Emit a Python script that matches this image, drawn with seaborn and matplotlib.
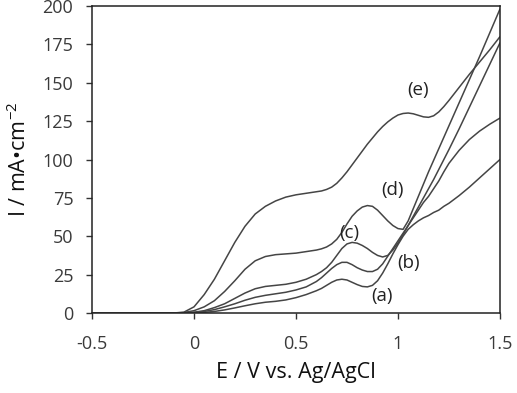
import numpy as np
import pandas as pd
import seaborn as sns
import matplotlib.pyplot as plt

# ---------------------------------------------------------------- data
potential = [-0.5, -0.1, -0.05, 0.0, 0.05, 0.1, 0.15, 0.2, 0.25, 0.3, 0.35, 0.4, 0.45, 0.5, 0.55, 0.6,
             0.625, 0.65, 0.675, 0.7, 0.725, 0.75, 0.775, 0.8, 0.825, 0.85, 0.875, 0.9, 0.925, 0.95,
             0.975, 1.0, 1.025, 1.05, 1.075, 1.1, 1.125, 1.15, 1.175, 1.2, 1.225, 1.25,
             1.3, 1.35, 1.4, 1.45, 1.5]

curve_a = [0, 0, 0, 0.1, 0.4, 1, 2, 3.3, 4.7, 6, 7, 7.6, 8.5, 10, 12, 14.5,
           16, 18, 20, 21.5, 22, 21.5, 20, 18.5, 17.3, 17, 18, 21, 26, 32,
           38.5, 44.5, 50, 54.5, 57.5, 60, 62, 63.5, 65.5, 67, 69.5, 71.5,
           76.5, 82, 88, 94, 100]
curve_b = [0, 0, 0, 0.3, 1, 2.2, 4, 6, 8.3, 10.2, 11.5, 12.5, 13.5, 15, 17, 20.5,
           23, 26, 29, 31.5, 33, 33, 31.5, 29.5, 28, 27, 27, 28.5, 32, 37,
           42, 47, 52, 57, 62, 67, 72, 76, 81, 86, 92, 97.5,
           106, 113, 118.5, 123, 127]
curve_c = [0, 0, 0.1, 0.5, 1.5, 3.5, 6, 9.5, 13, 15.8, 17.3, 18, 18.7, 20, 22, 25,
           27, 29.5, 33, 37.5, 42, 45, 46, 45.5, 44, 42, 39.5, 37.5, 36.5, 37.5,
           41, 45.5, 51, 57, 63, 69, 75, 81, 87, 93.5, 100, 106.5,
           120, 134, 148, 162, 176]
curve_d = [0, 0, 0.3, 1.5, 4, 8, 14, 21, 28.5, 34, 36.8, 38, 38.5, 39, 40, 41,
           41.8, 43, 45, 48, 52.5, 58, 63, 66.5, 69, 70, 69.5, 67, 63.5, 60,
           57, 55, 54.5, 60, 68, 76, 84, 92, 99.5, 107, 114.5, 122,
           137, 152, 167, 182.5, 198]
curve_e = [0, 0, 0.5, 4, 12, 22, 34, 46, 56.5, 64.5, 69.5, 73, 75.5, 77, 78, 79,
           79.5, 80.5, 82, 84.5, 88, 92, 96.5, 101, 105.5, 110, 114, 118, 121.5, 124.5,
           127, 129, 130, 130.3, 129.8, 128.8, 127.8, 127.5, 128.5, 131, 134.5, 138.5,
           147, 155.5, 163.5, 171.5, 180]

labels       = ["(a)", "(b)", "(c)", "(d)", "(e)"]
label_x      = [0.92, 1.05, 0.76, 0.975, 1.10]
label_y      = [11, 32.5, 52, 80, 145]

x_ticks      = [-0.5, 0, 0.5, 1, 1.5]
x_ticklabels = ["-0.5", "0", "0.5", "1", "1.5"]
y_ticks      = [0, 25, 50, 75, 100, 125, 150, 175, 200]

# ---------------------------------------------------------------- long form table
frames = []
for name, values in zip(labels, [curve_a, curve_b, curve_c, curve_d, curve_e]):
    frames.append(pd.DataFrame({"E": potential, "I": values, "curve": name}))
data = pd.concat(frames, ignore_index=True)

# ---------------------------------------------------------------- plot
sns.set_theme(style="white")
plt.rcParams['font.family'] = ['Open Sans', 'DejaVu Sans']
plt.rcParams['mathtext.fontset'] = 'custom'
plt.rcParams['mathtext.rm'] = 'Open Sans'

fig = plt.figure(figsize=(5.17, 3.93), dpi=100)
ax = fig.add_axes([0.178, 0.2036, 0.789, 0.781])

sns.lineplot(data=data, x="E", y="I", hue="curve", palette=["#454545"] * 5,
             linewidth=1.1, legend=False, sort=False, ax=ax)

for text, tx, ty in zip(labels, label_x, label_y):
    ax.text(tx, ty, text, fontsize=13.5, color="#222222", ha="center", va="center")

ax.set_xlim(-0.5, 1.5)
ax.set_ylim(0, 200)
ax.set_xticks(x_ticks)
ax.set_xticklabels(x_ticklabels)
ax.set_yticks(y_ticks)
ax.tick_params(axis="both", which="both", direction="out", length=4.5, width=1.0,
               labelsize=13, color="#333333", labelcolor="#3a3a3a",
               bottom=True, left=True, top=False, right=False)
ax.tick_params(axis="x", pad=11)
ax.tick_params(axis="y", pad=9)

for spine in ax.spines.values():
    spine.set_color("#222222")
    spine.set_linewidth(1.1)

ax.set_xlabel("E / V vs. Ag/AgCl", fontsize=15.5, color="#111111", labelpad=7)
ax.set_ylabel(r"I / mA•cm$^{\mathregular{-2}}$", fontsize=15.5, color="#111111", labelpad=8)

fig.savefig("out.png", dpi=100, facecolor="white")
